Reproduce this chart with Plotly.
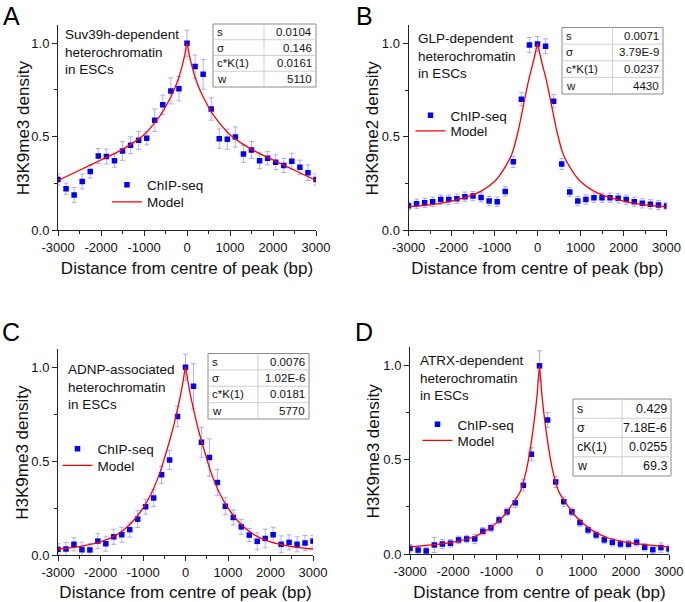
import plotly.graph_objects as go

W, H = 685, 602
FONT = "Liberation Sans, Arial, sans-serif"

# bin centres (bp)
pos_bp = [-3000, -2812.5, -2625, -2437.5, -2250, -2062.5, -1875, -1687.5, -1500,
          -1312.5, -1125, -937.5, -750, -562.5, -375, -187.5, 0, 187.5, 375, 562.5,
          750, 937.5, 1125, 1312.5, 1500, 1687.5, 1875, 2062.5, 2250, 2437.5, 2625,
          2812.5, 3000]
xtick_vals = [-3000, -2000, -1000, 0, 1000, 2000, 3000]
xtick_text = ["-3000", "-2000", "-1000", "0", "1000", "2000", "3000"]

# ChIP-seq density and error per panel
chip_a = [0.27, 0.221, 0.188, 0.26, 0.313, 0.396, 0.393, 0.371, 0.423, 0.454, 0.48,
          0.491, 0.588, 0.671, 0.745, 0.757, 1.0, 0.875, 0.834, 0.648, 0.489, 0.486,
          0.498, 0.407, 0.429, 0.371, 0.384, 0.363, 0.346, 0.368, 0.336, 0.307, 0.27]
err_a = [0.03, 0.03, 0.04, 0.04, 0.035, 0.04, 0.04, 0.035, 0.05, 0.045, 0.048, 0.035,
         0.06, 0.052, 0.07, 0.065, 0.07, 0.062, 0.08, 0.06, 0.052, 0.054, 0.054, 0.046,
         0.045, 0.043, 0.036, 0.04, 0.038, 0.043, 0.038, 0.042, 0.03]

chip_b = [0.13, 0.141, 0.146, 0.152, 0.163, 0.163, 0.168, 0.179, 0.182, 0.175, 0.155,
          0.152, 0.207, 0.366, 0.702, 0.993, 0.998, 0.986, 0.691, 0.354, 0.204, 0.155,
          0.163, 0.173, 0.173, 0.173, 0.17, 0.163, 0.152, 0.143, 0.138, 0.134, 0.129]
err_b = [0.02, 0.025, 0.025, 0.025, 0.025, 0.025, 0.025, 0.025, 0.025, 0.025, 0.025,
         0.025, 0.025, 0.03, 0.035, 0.04, 0.04, 0.04, 0.035, 0.03, 0.025, 0.025, 0.025,
         0.025, 0.025, 0.025, 0.025, 0.025, 0.025, 0.025, 0.025, 0.025, 0.02]

chip_c = [0.03, 0.032, 0.057, 0.028, 0.027, 0.074, 0.06, 0.097, 0.108, 0.135, 0.191,
          0.257, 0.303, 0.427, 0.506, 0.738, 1.0, 0.899, 0.6, 0.519, 0.386, 0.26, 0.2,
          0.15, 0.106, 0.073, 0.088, 0.108, 0.057, 0.067, 0.057, 0.064, 0.074]
err_c = [0.03, 0.035, 0.035, 0.04, 0.035, 0.04, 0.04, 0.04, 0.04, 0.04, 0.045, 0.04,
         0.045, 0.045, 0.05, 0.055, 0.07, 0.12, 0.08, 0.1, 0.07, 0.045, 0.04, 0.04,
         0.035, 0.045, 0.05, 0.04, 0.045, 0.04, 0.04, 0.04, 0.03]

chip_d = [0.03, 0.021, 0.016, 0.048, 0.053, 0.057, 0.075, 0.08, 0.08, 0.121, 0.139,
          0.181, 0.224, 0.272, 0.365, 0.53, 1.0, 0.712, 0.383, 0.278, 0.224, 0.167,
          0.128, 0.101, 0.075, 0.062, 0.053, 0.052, 0.062, 0.036, 0.023, 0.034, 0.027]
err_d = [0.02, 0.02, 0.02, 0.04, 0.025, 0.02, 0.02, 0.02, 0.025, 0.02, 0.02, 0.02,
         0.02, 0.025, 0.03, 0.035, 0.08, 0.04, 0.03, 0.025, 0.02, 0.02, 0.02, 0.02,
         0.02, 0.02, 0.02, 0.02, 0.02, 0.02, 0.02, 0.025, 0.02]

# model curves
model_bp = [-3000, -2500, -2000, -1600, -1300, -1000, -800, -600, -450, -300, -200,
            -100, -50, 0, 50, 100, 200, 300, 450, 600, 800, 1000, 1300, 1600, 2000,
            2500, 3000]
model_a = [0.265, 0.32, 0.375, 0.42, 0.46, 0.51, 0.56, 0.62, 0.68, 0.75, 0.81, 0.89,
           0.94, 1.0, 0.94, 0.89, 0.81, 0.75, 0.68, 0.62, 0.56, 0.51, 0.46, 0.42,
           0.375, 0.32, 0.265]
model_b = [0.125, 0.135, 0.155, 0.18, 0.21, 0.26, 0.32, 0.405, 0.53, 0.7, 0.81, 0.9,
           0.95, 1.0, 0.95, 0.9, 0.81, 0.7, 0.53, 0.405, 0.32, 0.26, 0.21, 0.18,
           0.155, 0.135, 0.125]
model_c = [0.032, 0.045, 0.07, 0.11, 0.165, 0.25, 0.33, 0.44, 0.55, 0.67, 0.765, 0.87,
           0.935, 1.0, 0.935, 0.87, 0.765, 0.67, 0.55, 0.44, 0.33, 0.25, 0.165, 0.11,
           0.07, 0.045, 0.032]
model_d = [0.037, 0.048, 0.063, 0.085, 0.115, 0.165, 0.21, 0.275, 0.33, 0.45, 0.58,
           0.75, 0.86, 1.0, 0.86, 0.75, 0.58, 0.45, 0.33, 0.275, 0.21, 0.165, 0.115,
           0.085, 0.063, 0.048, 0.037]

# fit parameter tables
param_names = ["s", "σ", "c*K(1)", "w"]
param_names_d = ["s", "σ", "cK(1)", "w"]
params_a = ["0.0104", "0.146", "0.0161", "5110"]
params_b = ["0.0071", "3.79E-9", "0.0237", "4430"]
params_c = ["0.0076", "1.02E-6", "0.0181", "5770"]
params_d = ["0.429", "7.18E-6", "0.0255", "69.3"]

labels = ["Suv39h-dependent<br>heterochromatin<br>in ESCs",
          "GLP-dependent<br>heterochromatin<br>in ESCs",
          "ADNP-associated<br>heterochromatin<br>in ESCs",
          "ATRX-dependent<br>heterochromatin<br>in ESCs"]
ytitles = ["H3K9me3 density", "H3K9me2 density", "H3K9me3 density", "H3K9me3 density"]
letters = ["A", "B", "C", "D"]

# panel layout in pixels: plot box (x0, x1, y_zero, y_top) and decorations
# legend = (x, top of ChIP-seq entry, top of Model entry); ytitle = centre x
panels = [
    dict(chip=chip_a, err=err_a, model=model_a, names=param_names, vals=params_a,
         box=(58, 316, 230, 24.6), letter=(11, 16), text=(63, 25), ytitle=23,
         legend=(107, 169.5, 186.5), table=(213, 316, 264, 24, 87), tfont=11.5),
    dict(chip=chip_b, err=err_b, model=model_b, names=param_names, vals=params_b,
         box=(408.5, 666.5, 230, 25), letter=(364, 16), text=(416, 29.5), ytitle=372,
         legend=(410.5, 100, 115.5), table=(562, 663, 612.5, 27.5, 94), tfont=11.5),
    dict(chip=chip_c, err=err_c, model=model_c, names=param_names, vals=params_c,
         box=(58, 313, 555, 348.5), letter=(11, 332), text=(66, 359.5), ytitle=23,
         legend=(57.5, 433.5, 450), table=(208, 309, 258, 353.5, 419), tfont=11.5),
    dict(chip=chip_d, err=err_d, model=model_d, names=param_names_d, vals=params_d,
         box=(410, 669, 554, 347), letter=(364, 332), text=(418, 350.5), ytitle=373,
         legend=(417.5, 409, 425), table=(573, 671, 622, 399, 476), tfont=12.5),
]


def px_x(v):
    return v / W


def px_y(v):
    return 1 - v / H


fig = go.Figure()
shapes = []
annotations = []
legend_font = dict(size=13.5, family=FONT, color="#111")

for i, p in enumerate(panels):
    n = "" if i == 0 else str(i + 1)
    leg_chip = "legend" + str(2 * i + 2)
    leg_model = "legend" + str(2 * i + 3)
    x0, x1, yz, yt = p["box"]
    lx, ly_chip, ly_model = p["legend"]

    fig.add_trace(go.Scatter(
        x=pos_bp, y=p["chip"], mode="markers", name="ChIP-seq",
        xaxis="x" + n, yaxis="y" + n, legend=leg_chip, showlegend=True,
        marker=dict(symbol="square", size=5.5, color="#0000ff"),
        error_y=dict(type="data", array=p["err"], color="rgba(120,120,255,0.6)",
                     thickness=1, width=2.5),
    ))
    fig.add_trace(go.Scatter(
        x=model_bp, y=p["model"], mode="lines", name="Model",
        xaxis="x" + n, yaxis="y" + n, legend=leg_model, showlegend=True,
        line=dict(color="#ff0000", width=1.3, shape="spline", smoothing=0.6),
    ))

    axis_common = dict(showline=True, linecolor="#222", linewidth=1, ticks="outside",
                       ticklen=5, tickcolor="#222", showgrid=False, zeroline=False,
                       automargin=False,
                       tickfont=dict(size=13, family=FONT, color="#111"))
    fig.update_layout({
        "xaxis" + n: dict(domain=[px_x(x0), px_x(x1)], range=[-3000, 3000],
                          anchor="y" + n, tickvals=xtick_vals, ticktext=xtick_text,
                          minor=dict(dtick=500, ticklen=3, ticks="outside", tickcolor="#222"),
                          title=dict(text="Distance from centre of peak (bp)", standoff=8,
                                     font=dict(size=17, family=FONT, color="#111")),
                          **axis_common),
        "yaxis" + n: dict(domain=[px_y(yz), px_y(yt)], range=[0, 1.1],
                          anchor="x" + n, tickvals=[0, 0.5, 1.0], tickformat=".1f",
                          minor=dict(dtick=0.25, ticklen=3, ticks="outside", tickcolor="#222"),
                          **axis_common),
        leg_chip: dict(x=px_x(lx), y=px_y(ly_chip), xanchor="left", yanchor="top",
                       bgcolor="rgba(0,0,0,0)", borderwidth=0, font=legend_font,
                       visible=True),
        leg_model: dict(x=px_x(lx), y=px_y(ly_model), xanchor="left", yanchor="top",
                        bgcolor="rgba(0,0,0,0)", borderwidth=0, font=legend_font,
                        visible=True),
    })

    # y-axis title, panel letter and description
    annotations.append(dict(text=ytitles[i], x=px_x(p["ytitle"]), y=px_y((yz + yt) / 2 + 1),
                            xref="paper", yref="paper", showarrow=False, textangle=-90,
                            xanchor="center", yanchor="middle",
                            font=dict(size=17, family=FONT, color="#111")))
    annotations.append(dict(text=letters[i], x=px_x(p["letter"][0]), y=px_y(p["letter"][1]),
                            xref="paper", yref="paper", showarrow=False, xanchor="center",
                            yanchor="middle", font=dict(size=25, family=FONT, color="#000")))
    annotations.append(dict(text=labels[i], x=px_x(p["text"][0]), y=px_y(p["text"][1]),
                            xref="paper", yref="paper", showarrow=False, align="left",
                            xanchor="left", yanchor="top",
                            font=dict(size=13.5, family=FONT, color="#111")))

    # parameter table
    tx0, tx1, tdiv, ty0, ty1 = p["table"]
    rh = (ty1 - ty0) / len(p["names"])
    shapes.append(dict(type="rect", xref="paper", yref="paper", x0=px_x(tx0), x1=px_x(tx1),
                       y0=px_y(ty0), y1=px_y(ty1), fillcolor="white",
                       line=dict(color="#8a8a8a", width=1)))
    shapes.append(dict(type="line", xref="paper", yref="paper", x0=px_x(tdiv), x1=px_x(tdiv),
                       y0=px_y(ty0), y1=px_y(ty1), line=dict(color="#cfcfcf", width=1)))
    for r in range(len(p["names"])):
        if r > 0:
            yy = ty0 + r * rh
            shapes.append(dict(type="line", xref="paper", yref="paper", x0=px_x(tx0),
                               x1=px_x(tx1), y0=px_y(yy), y1=px_y(yy),
                               line=dict(color="#cfcfcf", width=1)))
        yc = px_y(ty0 + (r + 0.5) * rh)
        annotations.append(dict(text=p["names"][r], x=px_x(tx0 + 2), y=yc, xref="paper",
                                yref="paper", showarrow=False, xanchor="left",
                                yanchor="middle",
                                font=dict(size=p["tfont"], family=FONT, color="#111")))
        annotations.append(dict(text=p["vals"][r], x=px_x(tx1 - 2), y=yc, xref="paper",
                                yref="paper", showarrow=False, xanchor="right",
                                yanchor="middle",
                                font=dict(size=p["tfont"], family=FONT, color="#111")))

fig.update_layout(
    width=W, height=H, margin=dict(l=0, r=0, t=0, b=0),
    paper_bgcolor="white", plot_bgcolor="white", showlegend=True,
    shapes=shapes, annotations=annotations,
    font=dict(family=FONT, color="#111"),
)

# drop the browser's default body margin so the figure fills the window
fig.write_html("out.html", config={"displayModeBar": False},
               post_script="document.body.style.margin = '0px';")
